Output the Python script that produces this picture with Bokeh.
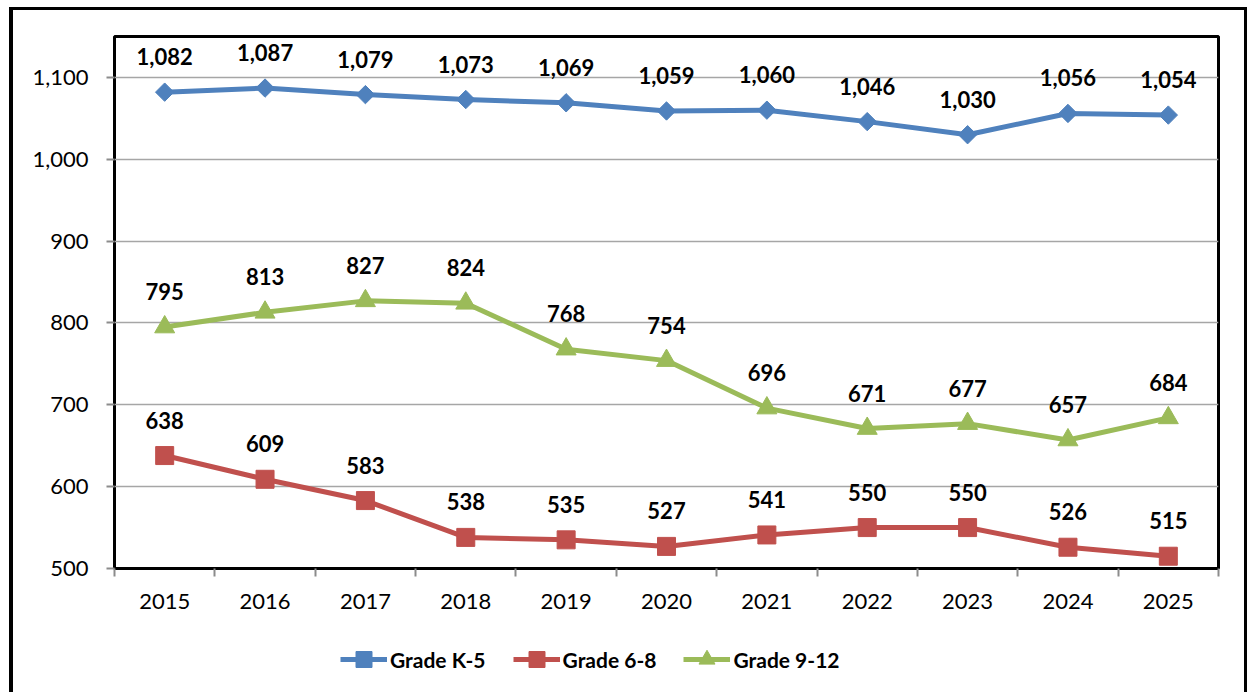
import math
from bokeh.plotting import figure
from bokeh.models import (Range1d, FixedTicker, NumeralTickFormatter, Legend,
                          LegendItem)
from bokeh.layouts import column
from bokeh.core.properties import value
from bokeh.embed import file_html
from bokeh.resources import INLINE

# ---- data ----
years = [2015, 2016, 2017, 2018, 2019, 2020, 2021, 2022, 2023, 2024, 2025]
grade_k5 = [1082, 1087, 1079, 1073, 1069, 1059, 1060, 1046, 1030, 1056, 1054]
grade_6_8 = [638, 609, 583, 538, 535, 527, 541, 550, 550, 526, 515]
grade_9_12 = [795, 813, 827, 824, 768, 754, 696, 671, 677, 657, 684]
series_names = ["Grade K-5", "Grade 6-8", "Grade 9-12"]
series_values = [grade_k5, grade_6_8, grade_9_12]
y_ticks = [500, 600, 700, 800, 900, 1000, 1100]
y_min, y_max = 500, 1150

# ---- style ----
colors = ["#4F81BD", "#C0504D", "#9BBB59"]
markers = ["square", "square", "triangle"]
marker_angles = [math.pi / 4, 0, 0]
marker_sizes = [13, 18, 20]
FONT = "Lato"
W = 1231

p = figure(width=W, height=616, output_backend="svg", toolbar_location=None,
           x_range=Range1d(years[0] - 0.5, years[-1] + 0.5),
           y_range=Range1d(y_min, y_max),
           min_border_left=101, min_border_top=26, min_border_right=26,
           min_border_bottom=58)

p.background_fill_color = "white"
p.border_fill_color = "white"
p.outline_line_color = "black"
p.outline_line_width = 3

p.xgrid.grid_line_color = None
p.ygrid.grid_line_color = "#A6A6A6"
p.ygrid.grid_line_width = 1.5

# y axis
p.yaxis.ticker = FixedTicker(ticks=y_ticks)
p.yaxis.formatter = NumeralTickFormatter(format="0,0")
p.yaxis.axis_line_color = None
p.yaxis.major_tick_line_color = "#8C8C8C"
p.yaxis.major_tick_line_width = 2
p.yaxis.major_tick_out = 8
p.yaxis.major_tick_in = 0
p.yaxis.minor_tick_line_color = None
p.yaxis.major_label_standoff = 18
p.yaxis.major_label_text_font = FONT
p.yaxis.major_label_text_font_size = "22px"
p.yaxis.major_label_text_color = "black"

# x axis: labels at years, ticks between years
boundaries = [y - 0.5 for y in years] + [years[-1] + 0.5]
p.xaxis.ticker = FixedTicker(ticks=years, minor_ticks=boundaries)
p.xaxis.formatter = NumeralTickFormatter(format="0")
p.xaxis.axis_line_color = None
p.xaxis.major_tick_line_color = None
p.xaxis.major_tick_out = 0
p.xaxis.major_tick_in = 0
p.xaxis.minor_tick_line_color = "#8C8C8C"
p.xaxis.minor_tick_line_width = 2
p.xaxis.minor_tick_out = 8
p.xaxis.minor_tick_in = 0
p.xaxis.major_label_standoff = 17
p.xaxis.major_label_text_font = FONT
p.xaxis.major_label_text_font_size = "22px"
p.xaxis.major_label_text_color = "black"

# legend lives in its own strip below the chart (borders match main plot)
pl = figure(width=W, height=66, output_backend="svg", toolbar_location=None,
            x_range=Range1d(0, 1), y_range=Range1d(0, 1),
            x_axis_type=None, y_axis_type=None,
            min_border_left=101, min_border_right=26, min_border_top=0,
            min_border_bottom=0)
pl.outline_line_color = None
pl.grid.visible = False
pl.border_fill_color = "white"

items = []
for name, vals, col, mk, ang, sz in zip(series_names, series_values, colors,
                                        markers, marker_angles, marker_sizes):
    p.line(years, vals, line_color=col, line_width=5, line_join="round")
    p.scatter(years, vals, marker=mk, angle=ang, size=sz,
              fill_color=col, line_color=col)
    p.text(years, vals, text=[f"{v:,}" for v in vals],
           text_font=value(FONT), text_font_style="bold",
           text_font_size="22px", text_color="black",
           text_align="center", text_baseline="bottom", y_offset=-27)
    # legend-strip copies (outside the strip's visible range)
    ln = pl.line(years, vals, line_color=col, line_width=5)
    sc = pl.scatter(years, vals, marker=mk, angle=ang, size=sz,
                    fill_color=col, line_color=col)
    items.append(LegendItem(label=name, renderers=[ln, sc]))

legend = Legend(items=items, orientation="horizontal", location=(226, 13),
                glyph_width=47, glyph_height=40, label_standoff=3, spacing=27,
                label_text_font=FONT, label_text_font_style="bold",
                label_text_font_size="21px", label_text_color="black",
                border_line_color=None, background_fill_alpha=0,
                padding=0, margin=0)
pl.add_layout(legend, "center")

layout = column(p, pl, spacing=0,
                styles={"border-left": "4px solid black",
                        "border-top": "3px solid black",
                        "border-right": "3px solid black",
                        "margin-left": "9px", "margin-top": "7px"})

open("out.html", "w").write(file_html(layout, INLINE))
